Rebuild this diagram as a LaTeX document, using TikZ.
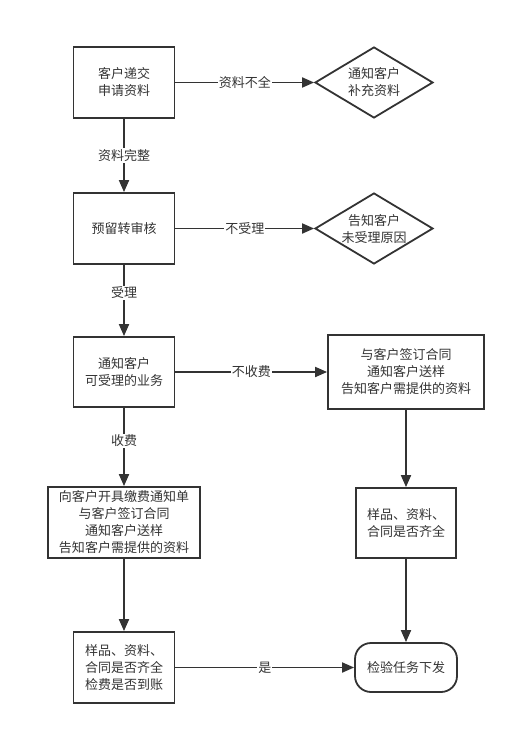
\documentclass[tikz,border=0pt]{standalone}
\usepackage{fontspec}
\newfontfamily\cjk{Noto Sans CJK SC}
\usetikzlibrary{arrows.meta,shapes.geometric}
\definecolor{ink}{HTML}{333333}

\begin{document}
\begin{tikzpicture}[x=1bp,y=-1bp,
  every node/.style={font=\cjk\fontsize{13bp}{17bp}\selectfont, text=ink},
  stepbox/.style={draw=ink, line width=1.8bp, align=center, inner sep=2bp,
    minimum width=101bp, minimum height=71bp},
  askbox/.style={draw=ink, line width=1.8bp, align=center, shape=diamond,
    inner sep=0pt, aspect=1.66, minimum width=118bp, minimum height=71bp},
  endbox/.style={draw=ink, line width=1.8bp, align=center, rounded corners=16bp,
    minimum width=102bp, minimum height=49bp},
  flow/.style={draw=ink, line width=1.8bp, -{Triangle[length=12bp,width=10bp]}},
  lbl/.style={fill=white, inner sep=1bp}]
  \useasboundingbox (0,0) rectangle (516,735);

  \node[stepbox] (submit) at (124,82.5) {客户递交\\申请资料};
  \node[askbox] (supply) at (374,82.5) {通知客户\\补充资料};
  \node[stepbox] (review) at (124,228.5) {预留转审核};
  \node[askbox] (reject) at (374,228.5) {告知客户\\未受理原因};
  \node[stepbox, minimum height=70bp] (accept) at (124,372) {通知客户\\可受理的业务};
  \node[stepbox, minimum width=156bp, minimum height=74bp] (free) at (406,372)
    {与客户签订合同\\通知客户送样\\告知客户需提供的资料};
  \node[stepbox, minimum width=152bp] (paid) at (124,522.5)
    {向客户开具缴费通知单\\与客户签订合同\\通知客户送样\\告知客户需提供的资料};
  \node[stepbox, minimum width=100bp, minimum height=70bp] (checkfree) at (406,523)
    {样品、资料、\\合同是否齐全};
  \node[stepbox] (checkpaid) at (124,667.5) {样品、资料、\\合同是否齐全\\检费是否到账};
  \node[endbox] (issue) at (406,667.5) {检验任务下发};

  \draw[flow] (submit) -- node[lbl] {资料不全} (supply);
  \draw[flow] (submit) -- node[lbl] {资料完整} (review);
  \draw[flow] (review) -- node[lbl] {不受理} (reject);
  \draw[flow] (review) -- node[lbl, pos=0.39] {受理} (accept);
  \draw[flow] (accept) -- node[lbl] {不收费} (free);
  \draw[flow] (accept) -- node[lbl, pos=0.42] {收费} (paid);
  \draw[flow] (free) -- (checkfree);
  \draw[flow] (paid) -- (checkpaid);
  \draw[flow] (checkfree) -- (issue);
  \draw[flow] (checkpaid) -- node[lbl] {是} (issue);
\end{tikzpicture}
\end{document}
